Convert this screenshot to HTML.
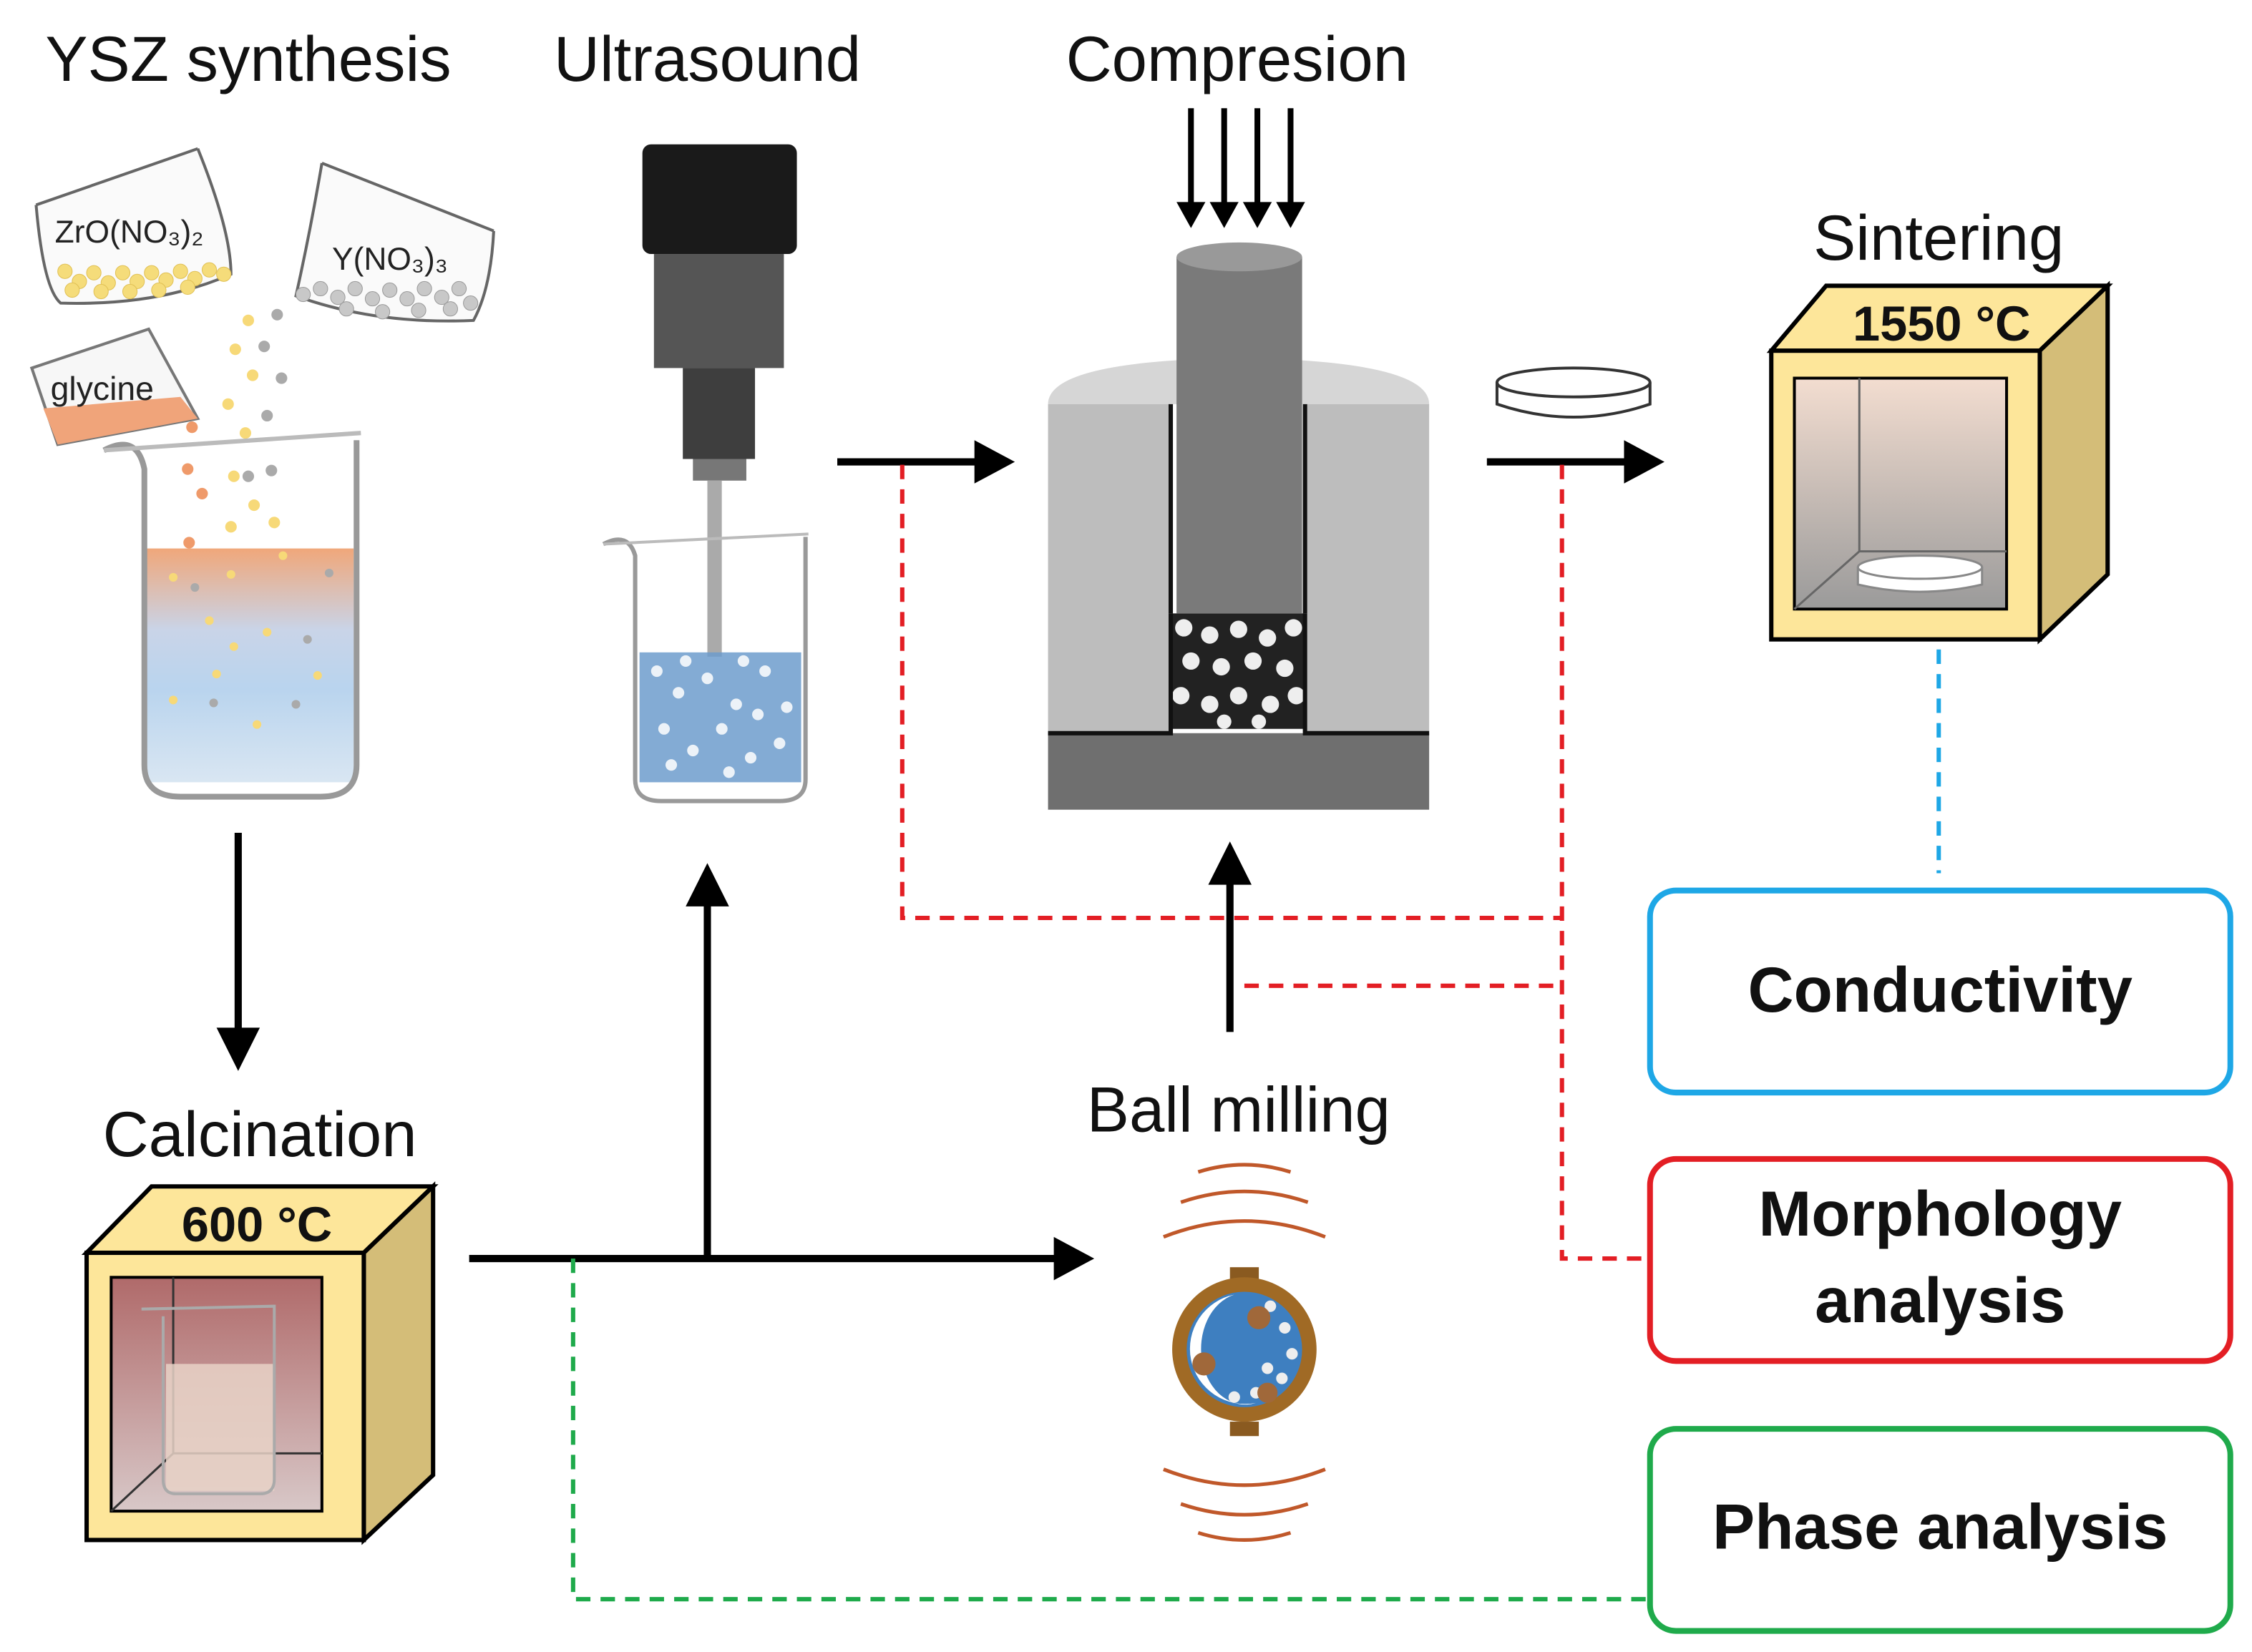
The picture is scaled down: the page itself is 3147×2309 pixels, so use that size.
<!DOCTYPE html>
<html><head><meta charset="utf-8"><style>
html,body{margin:0;padding:0;background:#fff;}
svg{display:block;}
text{font-family:"Liberation Sans","DejaVu Sans",sans-serif;}
</style></head><body>
<svg width="3147" height="2309" viewBox="0 0 1560 1144.6" xmlns="http://www.w3.org/2000/svg">
<defs>
<linearGradient id="liq" x1="0" y1="0" x2="0" y2="1">
<stop offset="0" stop-color="#f0a77a"/><stop offset="0.35" stop-color="#c9d4e8"/><stop offset="0.6" stop-color="#b9d4ee"/><stop offset="1" stop-color="#d9e6f2"/></linearGradient>
<linearGradient id="oven" x1="0" y1="0" x2="0" y2="1">
<stop offset="0" stop-color="#f3ddd0"/><stop offset="1" stop-color="#9a9a9a"/></linearGradient>
<linearGradient id="oven2" x1="0" y1="0" x2="0" y2="1">
<stop offset="0" stop-color="#b06a6a"/><stop offset="1" stop-color="#d8c8c8"/></linearGradient>
</defs>
<rect width="1560" height="1144.6" fill="#fff"/>

<g font-size="44" fill="#111" text-anchor="middle">
<text x="172" y="56">YSZ synthesis</text>
<text x="490" y="56">Ultrasound</text>
<text x="857" y="56">Compresion</text>
<text x="1343" y="180">Sintering</text>
<text x="180" y="801">Calcination</text>
<text x="858" y="784">Ball milling</text>
</g>

<!-- dishes -->
<path d="M25,142 L137,103 M25,142 Q30,200 42,210 Q110,212 160,190 Q160,160 137,103" fill="#fafafa" stroke="#666" stroke-width="2"/>
<path d="M223,113 L342,160 M342,160 Q340,200 328,222 Q260,225 205,205 Q215,160 223,113" fill="#fafafa" stroke="#666" stroke-width="2"/>
<text x="38" y="168" font-size="22" fill="#222">ZrO(NO₃)₂</text>
<text x="230" y="187" font-size="22" fill="#222">Y(NO₃)₃</text>
<g fill="#f5dc7a" stroke="#e0c055" stroke-width="0.5">
<circle cx="45" cy="188" r="5"/><circle cx="55" cy="195" r="5"/><circle cx="65" cy="189" r="5"/><circle cx="75" cy="196" r="5"/><circle cx="85" cy="189" r="5"/><circle cx="95" cy="195" r="5"/><circle cx="105" cy="189" r="5"/><circle cx="115" cy="194" r="5"/><circle cx="125" cy="188" r="5"/><circle cx="135" cy="193" r="5"/><circle cx="145" cy="187" r="5"/><circle cx="155" cy="190" r="5"/><circle cx="50" cy="201" r="5"/><circle cx="70" cy="202" r="5"/><circle cx="90" cy="202" r="5"/><circle cx="110" cy="201" r="5"/><circle cx="130" cy="199" r="5"/></g>
<g fill="#c8c8c8" stroke="#999" stroke-width="0.5">
<circle cx="210" cy="204" r="5"/><circle cx="222" cy="200" r="5"/><circle cx="234" cy="206" r="5"/><circle cx="246" cy="200" r="5"/><circle cx="258" cy="207" r="5"/><circle cx="270" cy="201" r="5"/><circle cx="282" cy="207" r="5"/><circle cx="294" cy="200" r="5"/><circle cx="306" cy="206" r="5"/><circle cx="318" cy="200" r="5"/><circle cx="326" cy="210" r="5"/><circle cx="240" cy="214" r="5"/><circle cx="265" cy="216" r="5"/><circle cx="290" cy="215" r="5"/><circle cx="312" cy="214" r="5"/></g>
<g fill="#f7d978"><circle cx="172" cy="222" r="4"/><circle cx="163" cy="242" r="4"/><circle cx="175" cy="260" r="4"/><circle cx="158" cy="280" r="4"/><circle cx="170" cy="300" r="4"/><circle cx="162" cy="330" r="4"/><circle cx="176" cy="350" r="4"/><circle cx="160" cy="365" r="4"/><circle cx="190" cy="362" r="4"/></g>
<g fill="#aaa"><circle cx="192" cy="218" r="4"/><circle cx="183" cy="240" r="4"/><circle cx="195" cy="262" r="4"/><circle cx="185" cy="288" r="4"/><circle cx="172" cy="330" r="4"/><circle cx="188" cy="326" r="4"/></g>
<path d="M22,255 L103,228 L137,290 L40,308 Z" fill="#f7f7f7" stroke="#777" stroke-width="2"/>
<path d="M30,283 L125,275 L137,290 L40,308 Z" fill="#f0a47a"/>
<text x="35" y="277" font-size="23" fill="#222">glycine</text>
<g fill="#ef9a6a"><circle cx="133" cy="296" r="4"/><circle cx="130" cy="325" r="4"/><circle cx="140" cy="342" r="4"/><circle cx="131" cy="376" r="4"/></g>
<rect x="100" y="380" width="145" height="162" fill="url(#liq)"/>
<path d="M72,312 Q95,300 100,325 L100,530 Q100,552 125,552 L222,552 Q247,552 247,530 L247,305" fill="none" stroke="#999" stroke-width="4"/>
<path d="M72,312 L250,300" stroke="#bbb" stroke-width="3"/>
<g fill="#f7d978"><circle cx="120" cy="400" r="3"/><circle cx="160" cy="398" r="3"/><circle cx="196" cy="385" r="3"/><circle cx="145" cy="430" r="3"/><circle cx="185" cy="438" r="3"/><circle cx="120" cy="485" r="3"/><circle cx="150" cy="467" r="3"/><circle cx="220" cy="468" r="3"/><circle cx="178" cy="502" r="3"/><circle cx="162" cy="448" r="3"/></g>
<g fill="#aaa"><circle cx="135" cy="407" r="3"/><circle cx="228" cy="397" r="3"/><circle cx="213" cy="443" r="3"/><circle cx="205" cy="488" r="3"/><circle cx="148" cy="487" r="3"/></g>

<!-- Ultrasound -->
<rect x="445" y="100" width="107" height="76" rx="6" fill="#1a1a1a"/>
<rect x="453" y="176" width="90" height="79" fill="#555"/>
<rect x="473" y="255" width="50" height="63" fill="#3e3e3e"/>
<rect x="480" y="318" width="37" height="15" fill="#777"/>
<rect x="490" y="333" width="10" height="122" fill="#aaa"/>
<rect x="443" y="452" width="112" height="90" fill="#6d9ccc" opacity="0.85"/>
<g fill="#fff" opacity="0.85">
<circle cx="455" cy="465" r="4"/><circle cx="470" cy="480" r="4"/><circle cx="490" cy="470" r="4"/><circle cx="510" cy="488" r="4"/><circle cx="530" cy="465" r="4"/><circle cx="545" cy="490" r="4"/><circle cx="460" cy="505" r="4"/><circle cx="480" cy="520" r="4"/><circle cx="500" cy="505" r="4"/><circle cx="520" cy="525" r="4"/><circle cx="540" cy="515" r="4"/><circle cx="465" cy="530" r="4"/><circle cx="505" cy="535" r="4"/><circle cx="525" cy="495" r="4"/><circle cx="475" cy="458" r="4"/><circle cx="515" cy="458" r="4"/></g>
<path d="M418,377 Q435,368 440,385 L440,540 Q440,555 458,555 L540,555 Q558,555 558,540 L558,372" fill="none" stroke="#999" stroke-width="3"/>
<path d="M418,377 L560,370" stroke="#bbb" stroke-width="2"/>

<!-- Compression -->
<path d="M726,280 Q726,250 858,248 Q990,250 990,280 Z" fill="#d6d6d6"/>
<rect x="726" y="280" width="264" height="228" fill="#bdbdbd"/>
<rect x="810" y="280" width="95" height="228" fill="#fff"/>
<rect x="726" y="508" width="264" height="53" fill="#6f6f6f"/>
<rect x="812" y="425" width="91" height="80" fill="#222"/>
<g fill="#eee"><circle cx="820" cy="435" r="6"/><circle cx="838" cy="440" r="6"/><circle cx="858" cy="436" r="6"/><circle cx="878" cy="442" r="6"/><circle cx="896" cy="435" r="6"/><circle cx="825" cy="458" r="6"/><circle cx="846" cy="462" r="6"/><circle cx="868" cy="458" r="6"/><circle cx="890" cy="463" r="6"/><circle cx="818" cy="482" r="6"/><circle cx="838" cy="488" r="6"/><circle cx="858" cy="482" r="6"/><circle cx="880" cy="488" r="6"/><circle cx="898" cy="482" r="6"/><circle cx="848" cy="500" r="5"/><circle cx="872" cy="500" r="5"/></g>
<rect x="815" y="178" width="87" height="247" fill="#7a7a7a"/>
<ellipse cx="858.5" cy="178" rx="43.5" ry="10" fill="#999"/>
<line x1="811" y1="280" x2="811" y2="425" stroke="#111" stroke-width="3"/>
<line x1="904" y1="280" x2="904" y2="425" stroke="#111" stroke-width="3"/>
<path d="M726,508 L811,508 L811,425 M904,425 L904,508 L990,508" fill="none" stroke="#111" stroke-width="3"/>
<g stroke="#000" stroke-width="4">
<line x1="825" y1="75" x2="825" y2="143"/><line x1="848" y1="75" x2="848" y2="143"/><line x1="871" y1="75" x2="871" y2="143"/><line x1="894" y1="75" x2="894" y2="143"/></g>
<g fill="#000"><path d="M815,140 L835,140 L825,158 Z"/><path d="M838,140 L858,140 L848,158 Z"/><path d="M861,140 L881,140 L871,158 Z"/><path d="M884,140 L904,140 L894,158 Z"/></g>

<path d="M1037,265 L1037,280 Q1090,298 1143,280 L1143,265" fill="#fff" stroke="#333" stroke-width="2"/>
<ellipse cx="1090" cy="265" rx="53" ry="10" fill="#fff" stroke="#333" stroke-width="2"/>

<!-- Sintering oven -->
<path d="M1227,243 L1265,198 L1460,198 L1413,243 Z" fill="#fde69a" stroke="#000" stroke-width="3"/>
<path d="M1413,243 L1460,198 L1460,398 L1413,443 Z" fill="#d4bd78" stroke="#000" stroke-width="3"/>
<rect x="1227" y="243" width="186" height="200" fill="#fde69a" stroke="#000" stroke-width="3"/>
<rect x="1243" y="262" width="147" height="160" fill="url(#oven)" stroke="#000" stroke-width="2"/>
<path d="M1243,422 L1288,382 L1390,382 M1288,382 L1288,262" fill="none" stroke="#666" stroke-width="1.5"/>
<path d="M1287,393 L1287,405 Q1330,415 1373,405 L1373,393" fill="#fff" stroke="#888" stroke-width="1.5"/>
<ellipse cx="1330" cy="393" rx="43" ry="8" fill="#fff" stroke="#888" stroke-width="1.5"/>
<text x="1345" y="236" font-size="34" font-weight="bold" text-anchor="middle" fill="#111">1550 °C</text>

<!-- Calcination oven -->
<path d="M60,868 L105,822 L300,822 L252,868 Z" fill="#fde69a" stroke="#000" stroke-width="3"/>
<path d="M252,868 L300,822 L300,1022 L252,1067 Z" fill="#d4bd78" stroke="#000" stroke-width="3"/>
<rect x="60" y="868" width="192" height="199" fill="#fde69a" stroke="#000" stroke-width="3"/>
<rect x="77" y="885" width="146" height="162" fill="url(#oven2)" stroke="#000" stroke-width="2"/>
<path d="M77,1047 L120,1007 L223,1007 M120,1007 L120,885" fill="none" stroke="#333" stroke-width="1.5"/>
<rect x="115" y="945" width="75" height="88" fill="#e7d2c7" opacity="0.85"/>
<path d="M98,907 L190,905 L190,1025 Q190,1035 180,1035 L122,1035 Q113,1035 113,1025 L113,912" fill="none" stroke="#aaa" stroke-width="2"/>
<text x="178" y="860" font-size="34" font-weight="bold" text-anchor="middle" fill="#111">600 °C</text>

<!-- Ball mill -->
<g fill="none" stroke="#c0582a" stroke-width="2.5">
<path d="M830,812 Q862,802 894,812"/><path d="M818,833 Q862,818 906,833"/><path d="M806,857 Q862,835 918,857"/>
<path d="M806,1018 Q862,1040 918,1018"/><path d="M818,1042 Q862,1057 906,1042"/><path d="M830,1062 Q862,1072 894,1062"/>
</g>
<rect x="852" y="878" width="20" height="10" fill="#8a5a20"/>
<rect x="852" y="985" width="20" height="10" fill="#8a5a20"/>
<circle cx="862" cy="935" r="50" fill="#a06a25"/>
<circle cx="862" cy="935" r="40" fill="#3e7fc0"/>
<path d="M855,897 A38,38 0 0 0 870,972 A30,38 0 0 1 855,897 Z" fill="#fff"/>
<g fill="#eee"><circle cx="880" cy="905" r="4"/><circle cx="890" cy="920" r="4"/><circle cx="895" cy="938" r="4"/><circle cx="888" cy="955" r="4"/><circle cx="870" cy="965" r="4"/><circle cx="855" cy="968" r="4"/><circle cx="878" cy="948" r="4"/></g>
<circle cx="872" cy="913" r="8" fill="#a0683a"/><circle cx="834" cy="945" r="8" fill="#a0683a"/><circle cx="878" cy="965" r="7" fill="#a0683a"/>

<!-- arrows -->
<g stroke="#000" stroke-width="5" fill="none">
<line x1="580" y1="320" x2="680" y2="320"/>
<line x1="1030" y1="320" x2="1130" y2="320"/>
<line x1="165" y1="577" x2="165" y2="720"/>
<line x1="325" y1="872" x2="735" y2="872"/>
<line x1="490" y1="872" x2="490" y2="620"/>
<line x1="852" y1="715" x2="852" y2="605"/>
</g>
<g fill="#000">
<path d="M675,305 L703,320 L675,335 Z"/>
<path d="M1125,305 L1153,320 L1125,335 Z"/>
<path d="M150,712 L165,742 L180,712 Z"/>
<path d="M730,857 L758,872 L730,887 Z"/>
<path d="M475,628 L490,598 L505,628 Z"/>
<path d="M837,613 L852,583 L867,613 Z"/>
</g>

<g fill="none" stroke-width="3" stroke-dasharray="10,7">
<path d="M625,322 L625,636 L1082,636" stroke="#e31e24"/>
<path d="M1082,322 L1082,872 L1142,872" stroke="#e31e24"/>
<path d="M862,683 L1082,683" stroke="#e31e24"/>
<path d="M1343,450 L1343,605" stroke="#1ea7e6"/>
<path d="M397,872 L397,1108 L1142,1108" stroke="#1faa4b"/>
</g>

<rect x="1143" y="617" width="402" height="140" rx="18" fill="#fff" stroke="#1ea7e6" stroke-width="4"/>
<rect x="1143" y="803" width="402" height="140" rx="18" fill="#fff" stroke="#e31e24" stroke-width="4"/>
<rect x="1143" y="990" width="402" height="140" rx="18" fill="#fff" stroke="#1faa4b" stroke-width="4"/>
<g font-size="44" font-weight="bold" text-anchor="middle" fill="#111">
<text x="1344" y="701">Conductivity</text>
<text x="1344" y="856">Morphology</text>
<text x="1344" y="916">analysis</text>
<text x="1344" y="1073">Phase analysis</text>
</g>
</svg>
</body></html>
